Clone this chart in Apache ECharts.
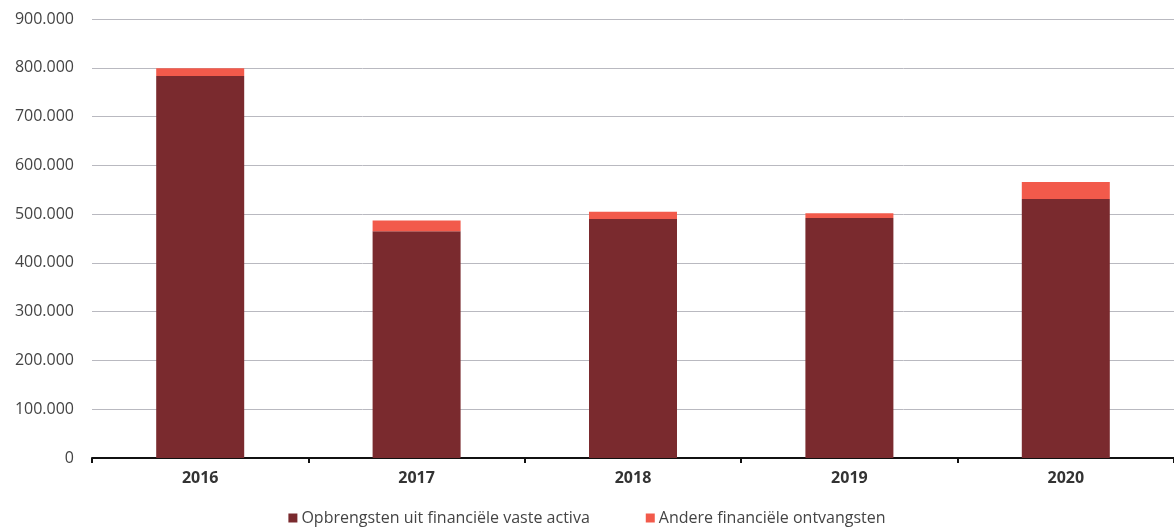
<!doctype html>
<html>
	<head>
		<meta charset="UTF-8">
		<title></title>
		<script type="text/javascript" src="https://cdn.jsdelivr.net/npm/echarts@6/dist/echarts.min.js"></script>
		<style type="text/css">
			html,body{
				margin: 0;
				padding: 0;
				background-color: white;
			}
			#main{
				width: 1174px;
				height: 532px;
			}
		</style>
	</head>
	<body>
		<div id="main"></div>
		<script type="text/javascript">
			var jaren = ['2016', '2017', '2018', '2019', '2020'];
			var vasteActiva = [783000, 465000, 490000, 492000, 531000];
			var andereOntvangsten = [16000, 22000, 15000, 10000, 35000];
			var naamVast = 'Opbrengsten uit financiële vaste activa';
			var naamAndere = 'Andere financiële ontvangsten';

			function puntFormaat(v){
				return String(v).replace(/\B(?=(\d{3})+(?!\d))/g, '.');
			}

			var myChart = echarts.init(document.getElementById('main'));
			var option = {
				animation: false,
				color: ['#7a2a2e', '#f25a4b'],
				textStyle: {
					fontFamily: 'Open Sans'
				},
				grid: {
					left: 92,
					top: 19,
					width: 1087,
					bottom: 74
				},
				legend: {
					bottom: 1,
					left: 'center',
					itemWidth: 9,
					itemHeight: 9,
					itemGap: 56,
					icon: 'rect',
					textStyle: {
						fontSize: 16,
						color: '#444',
						padding: [0, 0, 0, -1]
					},
					data: [naamVast, naamAndere]
				},
				xAxis: {
					type: 'category',
					data: jaren,
					axisLine: {
						lineStyle: {color: '#111', width: 2}
					},
					axisTick: {
						show: true,
						length: 5,
						lineStyle: {color: '#111', width: 2}
					},
					axisLabel: {
						fontWeight: 'bold',
						fontSize: 16,
						color: '#333',
						margin: 12
					}
				},
				yAxis: {
					type: 'value',
					min: 0,
					max: 900000,
					interval: 100000,
					axisLine: {show: false},
					axisTick: {show: false},
					axisLabel: {
						fontSize: 16,
						color: '#444',
						margin: 18,
						formatter: puntFormaat
					},
					splitLine: {
						lineStyle: {color: '#b9b9c0', width: 1}
					}
				},
				series: [
					{
						name: naamVast,
						type: 'bar',
						stack: 'totaal',
						barWidth: 88,
						data: vasteActiva
					},
					{
						name: naamAndere,
						type: 'bar',
						stack: 'totaal',
						barWidth: 88,
						data: andereOntvangsten
					}
				]
			};
			myChart.setOption(option);
		</script>
	</body>
</html>
